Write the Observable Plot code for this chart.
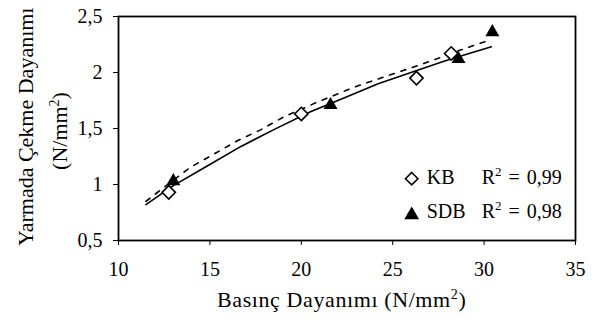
<!DOCTYPE html>
<html>
<head>
<meta charset="utf-8">
<script src="https://cdn.jsdelivr.net/npm/d3@7"></script>
<script src="https://cdn.jsdelivr.net/npm/@observablehq/plot@0.6"></script>
<style>
  html, body { margin: 0; padding: 0; background: #fff; }
</style>
</head>
<body>
<div id="chart"></div>
<script>
// Tick values and labels
const xTicks = [10, 15, 20, 25, 30, 35];
const yTicks = [0.5, 1, 1.5, 2, 2.5];
const yTickLabels = ["0,5", "1", "1,5", "2", "2,5"];

// Series: KB (open diamonds) and SDB (filled triangles)
const kbX = [12.75, 20.0, 26.3, 28.2];
const kbY = [0.93, 1.63, 1.95, 2.17];
const sdbX = [13.0, 21.6, 28.6, 30.45];
const sdbY = [1.03, 1.71, 2.12, 2.36];

// Trend lines
const solidX = [11.5, 13.0, 14.9, 16.7, 18.5, 20.5, 22.3, 24.2, 26.0, 27.8, 29.4, 30.4];
const solidY = [0.82, 0.99, 1.17, 1.34, 1.49, 1.65, 1.77, 1.90, 2.00, 2.10, 2.18, 2.23];
const dashX = [11.5, 13.9, 15.2, 16.5, 17.8, 19.0, 20.8, 22.9, 24.7, 26.7, 28.7, 30.3];
const dashY = [0.85, 1.15, 1.27, 1.39, 1.49, 1.60, 1.73, 1.87, 1.97, 2.08, 2.20, 2.29];

// Legend
const legendNames = ["KB", "SDB"];
const legendR2 = ["0,99", "0,98"];

const kb = kbX.map((x, i) => ({x, y: kbY[i]}));
const sdb = sdbX.map((x, i) => ({x, y: sdbY[i]}));
const solid = solidX.map((x, i) => ({x, y: solidY[i]}));
const dash = dashX.map((x, i) => ({x, y: dashY[i]}));

const FONT = "Liberation Serif";

const plot = Plot.plot({
  width: 597,
  height: 324,
  marginLeft: 118,
  marginRight: 22,
  marginTop: 16,
  marginBottom: 84,
  x: {domain: [10, 35]},
  y: {domain: [0.5, 2.5]},
  marks: [
    Plot.axisX({ticks: xTicks, tickSize: 5, tickPadding: 16, label: null, stroke: "black", fill: "black", fontSize: 20}),
    Plot.axisY({ticks: yTicks, tickFormat: (d) => yTickLabels[yTicks.indexOf(d)], tickSize: 5, tickPadding: 11, label: null, stroke: "black", fill: "black", fontSize: 20}),
    Plot.line(dash, {x: "x", y: "y", stroke: "black", strokeWidth: 1.6, strokeDasharray: "5,7"}),
    Plot.line(solid, {x: "x", y: "y", stroke: "black", strokeWidth: 1.6}),
    Plot.dot(kb, {x: "x", y: "y", symbol: "diamond2", r: 6, stroke: "black", strokeWidth: 1.6, fill: "white"}),
    Plot.dot(sdb, {x: "x", y: "y", symbol: "triangle", r: 5.2, fill: "black", stroke: "none"}),
    Plot.frame({stroke: "black", strokeWidth: 1.8})
  ]
});

plot.setAttribute("font-family", FONT);
document.getElementById("chart").appendChild(plot);

const svg = d3.select(plot);
svg.selectAll("g[aria-label$='tick label']").attr("font-family", FONT);

function addText(x, y, rotate, anchor, size) {
  return svg.append("text")
    .attr("transform", `translate(${x},${y})` + (rotate ? " rotate(-90)" : ""))
    .attr("text-anchor", anchor)
    .attr("font-family", FONT)
    .attr("font-size", size)
    .attr("fill", "black");
}
function addSup(t, before, after, size) {
  const s = Math.round(size * 0.65);
  const d = Math.round(size * 0.38);
  t.append("tspan").text(before);
  t.append("tspan").attr("font-size", s).attr("dy", -d).text("2");
  t.append("tspan").attr("font-size", size).attr("dy", d).text(after);
}

// X axis title
addSup(addText(217, 307, false, "start", 22).attr("letter-spacing", 0.6), "Basınç Dayanımı (N/mm", ")", 22);

// Y axis title, two lines
addText(33, 246, true, "start", 22).text("Yarmada Çekme Dayanımı");
addSup(addText(67, 131, true, "middle", 22), "(N/mm", ")", 22);

// Legend
const legY = [184, 218];
const symY = [178.7, 215];
const sym = [d3.symbol(d3.symbolDiamond2, Math.PI * 5.6 * 5.6), d3.symbol(d3.symbolTriangle, Math.PI * 5.5 * 5.5)];
legendNames.forEach((name, i) => {
  svg.append("path")
    .attr("transform", `translate(411.7,${symY[i]})`)
    .attr("d", sym[i]())
    .attr("fill", i === 0 ? "white" : "black")
    .attr("stroke", i === 0 ? "black" : "none")
    .attr("stroke-width", 1.6);
  addText(426.7, legY[i], false, "start", 20).text(name);
  const t = addText(481.7, legY[i], false, "start", 20).attr("word-spacing", 2);
  addSup(t, "R", " = " + legendR2[i], 20);
});
</script>
</body>
</html>
